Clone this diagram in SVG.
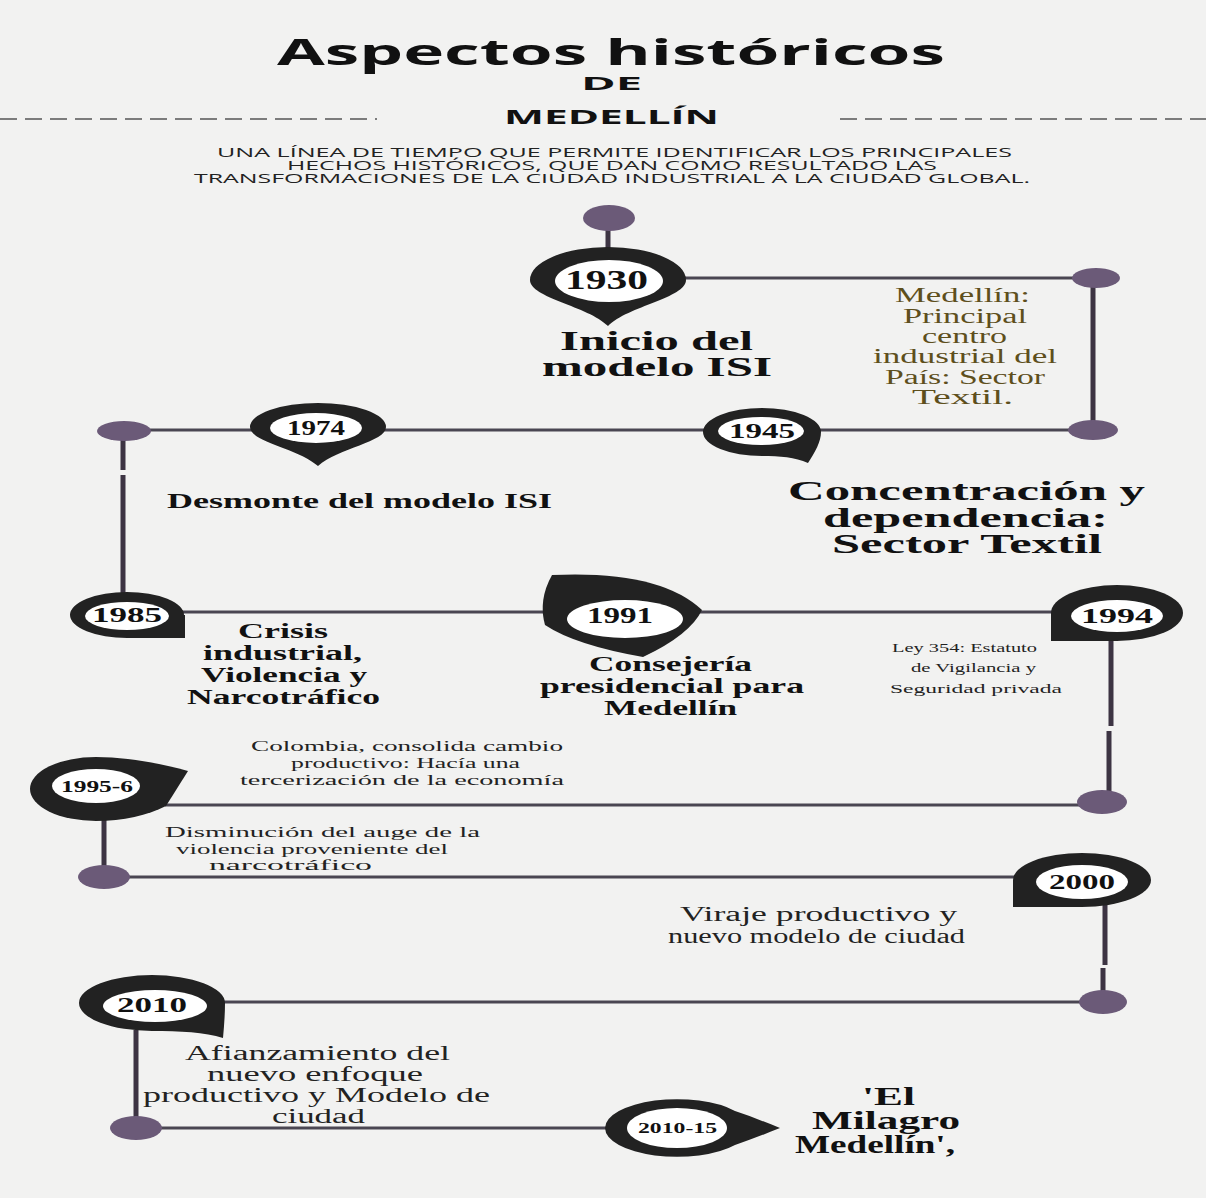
<svg xmlns="http://www.w3.org/2000/svg" width="1206" height="1198" viewBox="0 0 1206 1198">
<style>
.ln{stroke:#4a4652;stroke-width:3;fill:none}
.vl{stroke:#3d3443;stroke-width:5;fill:none}
.dash{stroke:#555;stroke-width:1.6;stroke-dasharray:17 8;fill:none}
.dot{fill:#6b5a78}
.pin{fill:#222}
.hole{fill:#fff}
.yr{font-family:"Liberation Serif",serif;font-weight:bold;fill:#111}
.b{font-family:"Liberation Serif",serif;font-weight:bold;fill:#111}
.r{font-family:"Liberation Serif",serif;fill:#222}
.gold{font-family:"Liberation Serif",serif;fill:#5e4f1c}
.h{font-family:"Open Sans","Liberation Sans",sans-serif;font-weight:bold;fill:#111}
.s{font-family:"Open Sans","Liberation Sans",sans-serif;fill:#222}
</style>
<rect width="1206" height="1198" fill="#f2f2f1"/>

<g id="title">
<text class="h" x="277" y="65" font-size="36" textLength="668" lengthAdjust="spacingAndGlyphs">Aspectos históricos</text>
<text class="h" x="581" y="90" font-size="18" textLength="61" lengthAdjust="spacingAndGlyphs">DE</text>
<text class="h" x="504" y="124" font-size="19" textLength="215" lengthAdjust="spacingAndGlyphs">MEDELLÍN</text>
<line class="dash" x1="0" y1="119" x2="377" y2="119"/>
<line class="dash" x1="840" y1="119" x2="1206" y2="119"/>
<text class="s" x="217" y="157" font-size="12.5" textLength="795" lengthAdjust="spacingAndGlyphs">UNA LÍNEA DE TIEMPO QUE PERMITE IDENTIFICAR LOS PRINCIPALES</text>
<text class="s" x="287" y="170" font-size="12.5" textLength="650" lengthAdjust="spacingAndGlyphs">HECHOS HISTÓRICOS, QUE DAN COMO RESULTADO LAS</text>
<text class="s" x="194" y="183" font-size="12.5" textLength="836" lengthAdjust="spacingAndGlyphs">TRANSFORMACIONES DE LA CIUDAD INDUSTRIAL A LA CIUDAD GLOBAL.</text>
</g>

<g id="connectors">
<line class="vl" x1="608" y1="228" x2="608" y2="250"/>
<line class="ln" x1="680" y1="278" x2="1080" y2="278"/>
<line class="vl" x1="1093" y1="278" x2="1093" y2="430"/>
<line class="ln" x1="140" y1="430" x2="1075" y2="430"/>
<line class="vl" x1="123" y1="438" x2="123" y2="470"/>
<line class="vl" x1="123" y1="475" x2="123" y2="600"/>
<line class="ln" x1="180" y1="612" x2="1060" y2="612"/>
<line class="vl" x1="1111" y1="638" x2="1111" y2="726"/>
<line class="vl" x1="1109" y1="731" x2="1109" y2="800"/>
<line class="ln" x1="165" y1="805" x2="1085" y2="805"/>
<line class="vl" x1="104" y1="815" x2="104" y2="877"/>
<line class="ln" x1="125" y1="877" x2="1020" y2="877"/>
<line class="vl" x1="1105" y1="905" x2="1105" y2="965"/>
<line class="vl" x1="1103" y1="968" x2="1103" y2="1002"/>
<line class="ln" x1="220" y1="1002" x2="1085" y2="1002"/>
<line class="vl" x1="136" y1="1030" x2="136" y2="1128"/>
<line class="ln" x1="150" y1="1128" x2="615" y2="1128"/>
<ellipse class="dot" cx="609" cy="218" rx="26" ry="13"/>
<ellipse class="dot" cx="1096" cy="278" rx="24" ry="10"/>
<ellipse class="dot" cx="1093" cy="430" rx="25" ry="10"/>
<ellipse class="dot" cx="124" cy="431" rx="27" ry="10"/>
<ellipse class="dot" cx="1102" cy="802" rx="25" ry="12"/>
<ellipse class="dot" cx="104" cy="877" rx="26" ry="12"/>
<ellipse class="dot" cx="1103" cy="1002" rx="24" ry="12"/>
<ellipse class="dot" cx="136" cy="1128" rx="26" ry="12"/>
</g>

<g id="n1930">
<path class="pin" d="M530,280 A78 33 0 0 1 686,280 C686,298 628,306 608,326 C588,306 530,298 530,280 Z"/>
<ellipse class="hole" cx="609" cy="281" rx="54" ry="21"/>
<text class="yr" x="565" y="289" font-size="27" textLength="83" lengthAdjust="spacingAndGlyphs">1930</text>
<text class="b" x="560" y="350" font-size="27" textLength="193" lengthAdjust="spacingAndGlyphs">Inicio del</text>
<text class="b" x="542" y="376" font-size="27" textLength="230" lengthAdjust="spacingAndGlyphs">modelo ISI</text>
</g>

<g id="nMedellin">
<text class="gold" x="895" y="302" font-size="20" textLength="135" lengthAdjust="spacingAndGlyphs">Medellín:</text>
<text class="gold" x="903" y="323" font-size="20" textLength="124" lengthAdjust="spacingAndGlyphs">Principal</text>
<text class="gold" x="922" y="343" font-size="20" textLength="85" lengthAdjust="spacingAndGlyphs">centro</text>
<text class="gold" x="873" y="363" font-size="20" textLength="184" lengthAdjust="spacingAndGlyphs">industrial del</text>
<text class="gold" x="885" y="384" font-size="20" textLength="160" lengthAdjust="spacingAndGlyphs">País: Sector</text>
<text class="gold" x="912" y="404" font-size="20" textLength="101" lengthAdjust="spacingAndGlyphs">Textil.</text>
</g>

<g id="n1974">
<path class="pin" d="M250,427 A68 24 0 0 1 386,427 C386,442 338,448 318,466 C298,448 250,442 250,427 Z"/>
<ellipse class="hole" cx="316" cy="428" rx="46" ry="15"/>
<text class="yr" x="287" y="435" font-size="20" textLength="58" lengthAdjust="spacingAndGlyphs">1974</text>
<text class="b" x="167" y="508" font-size="22" textLength="385" lengthAdjust="spacingAndGlyphs">Desmonte del modelo ISI</text>
</g>

<g id="n1945">
<path class="pin" d="M703,432 A59 24 0 0 1 821,432 C821,442 815,452 808,463 C795,457 780,456 762,456 A59 24 0 0 1 703,432 Z"/>
<ellipse class="hole" cx="761" cy="431" rx="43" ry="14"/>
<text class="yr" x="729" y="438" font-size="20" textLength="66" lengthAdjust="spacingAndGlyphs">1945</text>
<text class="b" x="788" y="500" font-size="27" textLength="357" lengthAdjust="spacingAndGlyphs">Concentración y</text>
<text class="b" x="823" y="527" font-size="27" textLength="285" lengthAdjust="spacingAndGlyphs">dependencia:</text>
<text class="b" x="832" y="553" font-size="27" textLength="270" lengthAdjust="spacingAndGlyphs">Sector Textil</text>
</g>

<g id="n1985">
<path class="pin" d="M184,615 A57 23 0 1 0 127,638 L185,638 L185,615 Z"/>
<ellipse class="hole" cx="127" cy="616" rx="42" ry="14"/>
<text class="yr" x="92" y="622" font-size="21" textLength="70" lengthAdjust="spacingAndGlyphs">1985</text>
<text class="b" x="238" y="638" font-size="20" textLength="90" lengthAdjust="spacingAndGlyphs">Crisis</text>
<text class="b" x="203" y="660" font-size="20" textLength="159" lengthAdjust="spacingAndGlyphs">industrial,</text>
<text class="b" x="201" y="682" font-size="20" textLength="166" lengthAdjust="spacingAndGlyphs">Violencia y</text>
<text class="b" x="187" y="704" font-size="20" textLength="193" lengthAdjust="spacingAndGlyphs">Narcotráfico</text>
</g>

<g id="n1991">
<path class="pin" d="M552,575 Q660,570 702,610 Q690,635 643,657 Q575,645 545,625 Q538,600 552,575 Z"/>
<ellipse class="hole" cx="625" cy="619" rx="58" ry="19"/>
<text class="yr" x="587" y="623" font-size="23" textLength="66" lengthAdjust="spacingAndGlyphs">1991</text>
<text class="b" x="589" y="671" font-size="21" textLength="163" lengthAdjust="spacingAndGlyphs">Consejería</text>
<text class="b" x="540" y="693" font-size="21" textLength="264" lengthAdjust="spacingAndGlyphs">presidencial para</text>
<text class="b" x="604" y="715" font-size="21" textLength="133" lengthAdjust="spacingAndGlyphs">Medellín</text>
</g>

<g id="n1994">
<path class="pin" d="M1051,613 A66 28 0 1 1 1117,641 L1051,641 Z"/>
<ellipse class="hole" cx="1117" cy="616" rx="46" ry="16"/>
<text class="yr" x="1081" y="623" font-size="22" textLength="72" lengthAdjust="spacingAndGlyphs">1994</text>
<text class="r" x="892" y="652" font-size="13" textLength="145" lengthAdjust="spacingAndGlyphs">Ley 354: Estatuto</text>
<text class="r" x="911" y="672" font-size="13" textLength="125" lengthAdjust="spacingAndGlyphs">de  Vigilancia y</text>
<text class="r" x="890" y="693" font-size="13" textLength="172" lengthAdjust="spacingAndGlyphs">Seguridad privada</text>
</g>

<g id="n1995">
<path class="pin" d="M30,789 A66 32 0 0 1 96,757 C128,757 163,764 188,771 L166,806 C148,815 123,821 96,821 A66 32 0 0 1 30,789 Z"/>
<ellipse class="hole" cx="96" cy="786" rx="44" ry="17"/>
<text class="yr" x="61" y="792" font-size="16" textLength="72" lengthAdjust="spacingAndGlyphs">1995-6</text>
<text class="r" x="251" y="751" font-size="15.5" textLength="312" lengthAdjust="spacingAndGlyphs">Colombia, consolida cambio</text>
<text class="r" x="291" y="768" font-size="15.5" textLength="229" lengthAdjust="spacingAndGlyphs">productivo: Hacía una</text>
<text class="r" x="240" y="785" font-size="15.5" textLength="324" lengthAdjust="spacingAndGlyphs">tercerización de la economía</text>
<text class="r" x="165" y="837" font-size="15" textLength="315" lengthAdjust="spacingAndGlyphs">Disminución del auge de la</text>
<text class="r" x="176" y="854" font-size="15" textLength="272" lengthAdjust="spacingAndGlyphs">violencia proveniente del</text>
<text class="r" x="209" y="870" font-size="15" textLength="163" lengthAdjust="spacingAndGlyphs">narcotráfico</text>
</g>

<g id="n2000">
<path class="pin" d="M1013,880 A69 27 0 1 1 1082,907 L1013,907 Z"/>
<ellipse class="hole" cx="1082" cy="882" rx="46" ry="17"/>
<text class="yr" x="1049" y="889" font-size="22" textLength="66" lengthAdjust="spacingAndGlyphs">2000</text>
<text class="r" x="680" y="921" font-size="20" textLength="277" lengthAdjust="spacingAndGlyphs">Viraje productivo y</text>
<text class="r" x="668" y="943" font-size="20" textLength="297" lengthAdjust="spacingAndGlyphs">nuevo modelo de ciudad</text>
</g>

<g id="n2010">
<path class="pin" d="M79,1003 A73 28 0 0 1 225,1003 C225,1015 224,1027 223,1038 C205,1032 180,1031 152,1031 A73 28 0 0 1 79,1003 Z"/>
<ellipse class="hole" cx="155" cy="1006" rx="52" ry="16"/>
<text class="yr" x="117" y="1012" font-size="22" textLength="70" lengthAdjust="spacingAndGlyphs">2010</text>
<text class="r" x="185" y="1060" font-size="20" textLength="265" lengthAdjust="spacingAndGlyphs">Afianzamiento del</text>
<text class="r" x="207" y="1081" font-size="20" textLength="216" lengthAdjust="spacingAndGlyphs">nuevo enfoque</text>
<text class="r" x="143" y="1102" font-size="20" textLength="347" lengthAdjust="spacingAndGlyphs">productivo y Modelo de</text>
<text class="r" x="272" y="1123" font-size="20" textLength="93" lengthAdjust="spacingAndGlyphs">ciudad</text>
</g>

<g id="n2015">
<path class="pin" d="M605,1128 A72 29 0 0 1 735,1111 C750,1116 765,1122 780,1128 C765,1134 750,1140 735,1145 A72 29 0 0 1 605,1128 Z"/>
<ellipse class="hole" cx="677" cy="1128" rx="50" ry="20"/>
<text class="yr" x="638" y="1133" font-size="15" textLength="79" lengthAdjust="spacingAndGlyphs">2010-15</text>
<text class="b" x="862" y="1105" font-size="25" textLength="53" lengthAdjust="spacingAndGlyphs">'El</text>
<text class="b" x="812" y="1129" font-size="25" textLength="148" lengthAdjust="spacingAndGlyphs">Milagro</text>
<text class="b" x="795" y="1153" font-size="25" textLength="160" lengthAdjust="spacingAndGlyphs">Medellín',</text>
</g>
</svg>
